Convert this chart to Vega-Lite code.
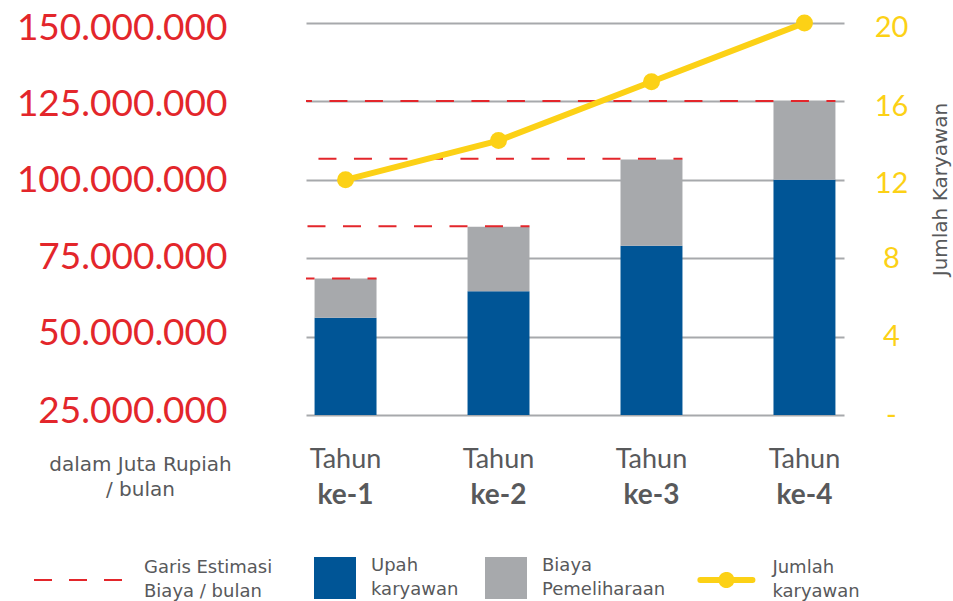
{
  "$schema": "https://vega.github.io/schema/vega-lite/v6.json",
  "width": 538,
  "height": 392,
  "autosize": {"type": "none"},
  "padding": {"left": 306, "top": 23, "right": 109, "bottom": 186},
  "background": "white",
  "config": {
    "view": {"stroke": null},
    "font": "Lato",
    "axis": {"domain": false, "ticks": false, "grid": false}
  },
  "datasets": {
    "biaya": [
      {"tahun": "ke-1", "kategori": "Upah karyawan", "nilai": 56000000},
      {"tahun": "ke-1", "kategori": "Biaya Pemeliharaan", "nilai": 12500000},
      {"tahun": "ke-2", "kategori": "Upah karyawan", "nilai": 64500000},
      {"tahun": "ke-2", "kategori": "Biaya Pemeliharaan", "nilai": 20500000},
      {"tahun": "ke-3", "kategori": "Upah karyawan", "nilai": 79000000},
      {"tahun": "ke-3", "kategori": "Biaya Pemeliharaan", "nilai": 27500000},
      {"tahun": "ke-4", "kategori": "Upah karyawan", "nilai": 100000000},
      {"tahun": "ke-4", "kategori": "Biaya Pemeliharaan", "nilai": 24800000}
    ],
    "tahunan": [
      {"tahun": "ke-1", "estimasi": 68500000, "karyawan": 12},
      {"tahun": "ke-2", "estimasi": 85200000, "karyawan": 14},
      {"tahun": "ke-3", "estimasi": 106700000, "karyawan": 17},
      {"tahun": "ke-4", "estimasi": 125100000, "karyawan": 20}
    ]
  },
  "layer": [
    {
      "layer": [
        {
          "data": {"name": "biaya"},
          "mark": {"type": "bar", "clip": true},
          "encoding": {
            "x": {
              "field": "tahun",
              "type": "nominal",
              "scale": {"paddingInner": 0.595, "paddingOuter": 0.056},
              "axis": {
                "orient": "bottom",
                "labelExpr": "'Tahun'",
                "labelFont": "Lato",
                "labelFontSize": 27,
                "labelColor": "#58595b",
                "labelPadding": 31,
                "labelAngle": 0,
                "title": null
              }
            },
            "y": {
              "field": "nilai",
              "type": "quantitative",
              "stack": "zero",
              "scale": {"domain": [25000000, 150000000], "nice": false, "zero": false},
              "axis": {
                "values": [25000000, 50000000, 75000000, 100000000, 125000000, 150000000],
                "grid": true,
                "gridColor": "#a7a9ac",
                "gridWidth": 2,
                "labelExpr": "replace(format(datum.value, ','), regexp(',', 'g'), '.')",
                "labelFont": "Lato",
                "labelFontSize": 37,
                "labelLimit": 400,
                "labelColor": "#e3262b",
                "labelPadding": 79,
                "labelAlign": "right",
                "labelBaseline": "middle",
                "labelOffset": {
                  "condition": [
                    {"test": "datum.value == 150000000", "value": 5},
                    {"test": "datum.value == 125000000", "value": 3},
                    {"test": "datum.value == 100000000", "value": 1},
                    {"test": "datum.value == 75000000", "value": -1},
                    {"test": "datum.value == 50000000", "value": -3}
                  ],
                  "value": -4
                },
                "title": ["dalam Juta Rupiah", "/ bulan"],
                "titleAngle": 0,
                "titleX": -166,
                "titleY": 441,
                "titleAlign": "center",
                "titleBaseline": "middle",
                "titleFont": "DejaVu Sans",
                "titleFontSize": 20,
                "titleFontWeight": "normal",
                "titleColor": "#58595b",
                "titleLineHeight": 25
              }
            },
            "color": {
              "field": "kategori",
              "type": "nominal",
              "scale": {
                "domain": ["Garis Estimasi Biaya / bulan", "Upah karyawan", "Biaya Pemeliharaan", "Jumlah karyawan"],
                "range": ["#e3262b", "#005596", "#a7a9ac", "#fcd116"]
              },
              "legend": {
                "orient": "none",
                "legendX": -260,
                "legendY": 546,
                "direction": "horizontal",
                "columns": 4,
                "title": null,
                "padding": 0,
                "symbolSize": 1764,
                "symbolType": "square",
                "labelFont": "DejaVu Sans",
                "labelFontSize": 18,
                "labelColor": "#58595b",
                "labelBaseline": "middle",
                "labelOffset": 27,
                "labelLimit": 300,
                "columnPadding": 22,
                "labelExpr": "datum.label == 'Garis Estimasi Biaya / bulan' ? ['Garis Estimasi', 'Biaya / bulan'] : split(datum.label, ' ')",
                "encode": {
                  "symbols": {
                    "update": {
                      "shape": {"signal": "datum.value == 'Garis Estimasi Biaya / bulan' ? 'M-1,0L10.9,0' : datum.value == 'Jumlah karyawan' ? 'M-0.84,0L1.64,0M0.64,0A0.24,0.24,0,1,1,0.16,0A0.24,0.24,0,1,1,0.64,0Z' : 'square'"},
                      "fill": {"signal": "datum.value == 'Garis Estimasi Biaya / bulan' ? 'transparent' : datum.value == 'Upah karyawan' ? '#005596' : datum.value == 'Biaya Pemeliharaan' ? '#a7a9ac' : '#fcd116'"},
                      "stroke": {"signal": "datum.value == 'Garis Estimasi Biaya / bulan' ? '#e3262b' : datum.value == 'Jumlah karyawan' ? '#fcd116' : 'transparent'"},
                      "strokeWidth": {"signal": "datum.value == 'Jumlah karyawan' ? 6 : 2"},
                      "strokeDash": {"signal": "datum.value == 'Garis Estimasi Biaya / bulan' ? [18, 17, 18, 17, 18, 2000] : [1, 0]"},
                      "strokeCap": {"signal": "datum.value == 'Jumlah karyawan' ? 'round' : 'butt'"},
                      "opacity": {"value": 1}
                    }
                  },
                  "labels": {
                    "update": {
                      "dx": {"signal": "datum.value == 'Garis Estimasi Biaya / bulan' ? 53 : datum.value == 'Jumlah karyawan' ? 18.4 : 0"},
                      "dy": {"value": -12},
                      "lineHeight": {"value": 24}
                    }
                  }
                }
              }
            },
            "order": {"field": "kategori", "sort": "descending"}
          }
        },
        {
          "data": {"name": "tahunan"},
          "mark": {"type": "rule", "color": "#e3262b", "strokeWidth": 2, "strokeDash": [18, 17.5], "strokeDashOffset": 9},
          "encoding": {
            "x": {"field": "tahun", "type": "nominal", "bandPosition": 1},
            "x2": {"value": 0},
            "y": {"field": "estimasi", "type": "quantitative"}
          }
        }
      ]
    },
    {
      "data": {"name": "tahunan"},
      "mark": {
        "type": "line",
        "color": "#fcd116",
        "strokeWidth": 6,
        "point": {"filled": true, "size": 289, "color": "#fcd116", "opacity": 1}
      },
      "encoding": {
        "x": {
          "field": "tahun",
          "type": "nominal",
          "axis": {
            "orient": "bottom",
            "labelFont": "Lato",
            "labelFontSize": 28,
            "labelFontWeight": "bold",
            "labelColor": "#58595b",
            "labelPadding": 66,
            "labelAngle": 0,
            "title": null
          }
        },
        "y": {
          "field": "karyawan",
          "type": "quantitative",
          "scale": {"domain": [0, 20], "nice": false},
          "axis": {
            "orient": "right",
            "values": [0, 4, 8, 12, 16, 20],
            "grid": false,
            "labelExpr": "datum.value == 0 ? '-' : datum.label",
            "labelFont": "Lato",
            "labelFontSize": 29,
            "labelColor": "#fcd116",
            "labelAlign": "center",
            "labelPadding": 47,
            "labelBaseline": "middle",
            "labelOffset": {
              "condition": [
                {"test": "datum.value == 16", "value": 5},
                {"test": "datum.value >= 12", "value": 4}
              ],
              "value": 0
            },
            "title": "Jumlah Karyawan",
            "titleAngle": 270,
            "titleX": 96,
            "titleY": 166,
            "titleAlign": "center",
            "titleBaseline": "middle",
            "titleFont": "DejaVu Sans",
            "titleFontSize": 20,
            "titleFontWeight": "normal",
            "titleColor": "#58595b"
          }
        }
      }
    }
  ],
  "resolve": {"scale": {"y": "independent"}, "axis": {"x": "independent"}}
}
